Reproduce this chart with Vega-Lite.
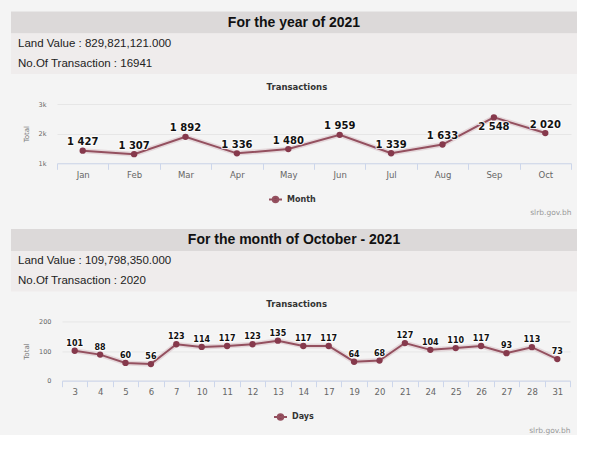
{
  "$schema": "https://vega.github.io/schema/vega-lite/v6.json",
  "background": "#f4f4f4",
  "padding": {"left": 11, "top": 11.5, "right": 0, "bottom": 0},
  "config": {
    "view": {"stroke": null},
    "locale": {"number": {"decimal": ".", "thousands": " ", "grouping": [3], "currency": ["", ""]}}
  },
  "datasets": {
    "months": [
      {"month": "Jan", "total": 1427},
      {"month": "Feb", "total": 1307},
      {"month": "Mar", "total": 1892},
      {"month": "Apr", "total": 1336},
      {"month": "May", "total": 1480},
      {"month": "Jun", "total": 1959},
      {"month": "Jul", "total": 1339},
      {"month": "Aug", "total": 1633},
      {"month": "Sep", "total": 2548},
      {"month": "Oct", "total": 2020}
    ],
    "days": [
      {"day": 3, "total": 101}, {"day": 4, "total": 88}, {"day": 5, "total": 60}, {"day": 6, "total": 56},
      {"day": 7, "total": 123}, {"day": 10, "total": 114}, {"day": 11, "total": 117}, {"day": 12, "total": 123},
      {"day": 13, "total": 135}, {"day": 14, "total": 117}, {"day": 17, "total": 117}, {"day": 19, "total": 64},
      {"day": 20, "total": 68}, {"day": 21, "total": 127}, {"day": 24, "total": 104}, {"day": 25, "total": 110},
      {"day": 26, "total": 117}, {"day": 27, "total": 93}, {"day": 28, "total": 113}, {"day": 31, "total": 73}
    ]
  },
  "spacing": 12.4,
  "resolve": {"scale": {"color": "independent"}, "legend": {"color": "independent"}},
  "vconcat": [
    {
      "spacing": 7.5,
      "resolve": {"scale": {"color": "independent"}, "legend": {"color": "independent"}},
      "vconcat": [
        {
          "spacing": 0,
          "vconcat": [
            {
              "width": 566, "height": 22,
              "view": {"fill": "#dcd9d9", "stroke": null},
              "data": {"values": [{"text": "For the year of 2021"}]},
              "mark": {"type": "text", "font": "Liberation Sans", "fontSize": 14, "fontWeight": "bold", "color": "#111"},
              "encoding": {"text": {"field": "text"}}
            },
            {
              "width": 566, "height": 40.5,
              "view": {"fill": "#efecec", "stroke": null},
              "data": {"values": [{"line": 1, "text": "Land Value : 829,821,121.000"}, {"line": 2, "text": "No.Of Transaction : 16941"}]},
              "mark": {"type": "text", "align": "left", "dx": 7, "font": "Liberation Sans", "fontSize": 11.5, "color": "#222"},
              "encoding": {
                "x": {"datum": 0, "type": "quantitative", "scale": {"domain": [0, 1]}, "axis": null},
                "y": {"field": "line", "type": "ordinal", "axis": null},
                "text": {"field": "text"}
              }
            }
          ]
        },
        {
          "spacing": 10,
          "resolve": {"scale": {"color": "independent"}, "legend": {"color": "independent"}},
          "hconcat": [
            {"width": 1, "height": 1, "data": {"values": []}, "mark": "point", "encoding": {}},
            {
              "width": 514, "height": 59.3,
              "data": {"name": "months"},
              "title": {"text": "Transactions", "font": "DejaVu Sans", "fontSize": 8.5, "fontWeight": "bold", "color": "#333", "anchor": "middle", "frame": "bounds", "offset": 1, "baseline": "bottom"},
              "encoding": {
                "x": {"field": "month", "type": "nominal", "sort": null,
                  "scale": {"type": "band", "paddingInner": 0, "paddingOuter": 0},
                  "axis": {"title": "slrb.gov.bh", "titleAnchor": "end", "titleFont": "DejaVu Sans", "titleFontSize": 7.5, "titleFontWeight": "normal", "titleColor": "#999", "titlePadding": 30,
                    "labelAngle": 0, "labelFont": "DejaVu Sans", "labelFontSize": 8.5, "labelColor": "#666", "labelPadding": 1,
                    "tickSize": 6, "tickColor": "#ccd6eb", "domainColor": "#ccd6eb", "tickBand": "extent", "grid": false}},
                "y": {"field": "total", "type": "quantitative",
                  "scale": {"domain": [1000, 3000], "nice": false, "zero": false},
                  "axis": {"title": "Total", "titleFont": "DejaVu Sans", "titleFontSize": 7, "titleFontWeight": "normal", "titleColor": "#777", "titlePadding": 8.8,
                    "values": [1000, 2000, 3000], "labelExpr": "datum.value / 1000 + 'k'", "labelFont": "DejaVu Sans", "labelFontSize": 6.5, "labelColor": "#666", "labelPadding": 11,
                    "ticks": false, "domain": false, "gridColor": "#e6e6e6"}}
              },
              "layer": [
                {"mark": {"type": "line", "color": "#c9a3ac", "strokeWidth": 5, "opacity": 0.35}},
                {"mark": {"type": "line", "strokeWidth": 2},
                  "encoding": {"color": {"datum": "Month", "scale": {"range": ["#94505f"]},
                    "legend": {"title": null, "orient": "none", "legendX": 211, "legendY": 88, "padding": 0,
                      "symbolType": "M-1,0L1,0M-0.42,0A0.42,0.42,0,1,1,0.42,0A0.42,0.42,0,1,1,-0.42,0Z", "symbolSize": 169, "labelOffset": 4,
                      "labelFont": "DejaVu Sans", "labelFontSize": 8, "labelFontWeight": "bold", "labelColor": "#333",
                      "encode": {"symbols": {"update": {"fill": {"value": "#86394c"}, "stroke": {"value": "#94505f"}, "strokeWidth": {"value": 2}}}}}}}},
                {"mark": {"type": "point", "filled": true, "size": 40, "color": "#86394c", "opacity": 1}},
                {"transform": [{"filter": "datum.month != 'Sep'"}],
                  "mark": {"type": "text", "font": "DejaVu Sans", "fontSize": 10, "fontWeight": "bold", "dy": -8.5, "stroke": "white", "strokeWidth": 2, "strokeJoin": "round", "strokeOpacity": 0.8, "fill": "white"},
                  "encoding": {"text": {"field": "total", "format": ",d"}}},
                {"transform": [{"filter": "datum.month != 'Sep'"}],
                  "mark": {"type": "text", "font": "DejaVu Sans", "fontSize": 10, "fontWeight": "bold", "dy": -8.5, "color": "#111"},
                  "encoding": {"text": {"field": "total", "format": ",d"}}},
                {"transform": [{"filter": "datum.month == 'Sep'"}],
                  "mark": {"type": "text", "font": "DejaVu Sans", "fontSize": 10, "fontWeight": "bold", "dy": 10, "stroke": "white", "strokeWidth": 2, "strokeJoin": "round", "strokeOpacity": 0.8, "fill": "white"},
                  "encoding": {"text": {"field": "total", "format": ",d"}}},
                {"transform": [{"filter": "datum.month == 'Sep'"}],
                  "mark": {"type": "text", "font": "DejaVu Sans", "fontSize": 10, "fontWeight": "bold", "dy": 10, "color": "#111"},
                  "encoding": {"text": {"field": "total", "format": ",d"}}}
              ]
            }
          ]
        }
      ]
    },
    {
      "spacing": 7.5,
      "resolve": {"scale": {"color": "independent"}, "legend": {"color": "independent"}},
      "vconcat": [
        {
          "spacing": 0,
          "vconcat": [
            {
              "width": 566, "height": 22,
              "view": {"fill": "#dcd9d9", "stroke": null},
              "data": {"values": [{"text": "For the month of October - 2021"}]},
              "mark": {"type": "text", "font": "Liberation Sans", "fontSize": 14, "fontWeight": "bold", "color": "#111"},
              "encoding": {"text": {"field": "text"}}
            },
            {
              "width": 566, "height": 40.5,
              "view": {"fill": "#efecec", "stroke": null},
              "data": {"values": [{"line": 1, "text": "Land Value : 109,798,350.000"}, {"line": 2, "text": "No.Of Transaction : 2020"}]},
              "mark": {"type": "text", "align": "left", "dx": 7, "font": "Liberation Sans", "fontSize": 11.5, "color": "#222"},
              "encoding": {
                "x": {"datum": 0, "type": "quantitative", "scale": {"domain": [0, 1]}, "axis": null},
                "y": {"field": "line", "type": "ordinal", "axis": null},
                "text": {"field": "text"}
              }
            }
          ]
        },
        {
          "spacing": 10,
          "resolve": {"scale": {"color": "independent"}, "legend": {"color": "independent"}},
          "hconcat": [
            {"width": 1, "height": 1, "data": {"values": []}, "mark": "point", "encoding": {}},
            {
              "width": 508, "height": 59.3,
              "data": {"name": "days"},
              "title": {"text": "Transactions", "font": "DejaVu Sans", "fontSize": 8.5, "fontWeight": "bold", "color": "#333", "anchor": "middle", "frame": "bounds", "offset": 1, "baseline": "bottom"},
              "encoding": {
                "x": {"field": "day", "type": "ordinal",
                  "scale": {"type": "band", "paddingInner": 0, "paddingOuter": 0},
                  "axis": {"title": "slrb.gov.bh", "titleAnchor": "end", "titleFont": "DejaVu Sans", "titleFontSize": 7.5, "titleFontWeight": "normal", "titleColor": "#999", "titlePadding": 30,
                    "labelAngle": 0, "labelFont": "DejaVu Sans", "labelFontSize": 8.5, "labelColor": "#666", "labelPadding": 1,
                    "tickSize": 6, "tickColor": "#ccd6eb", "domainColor": "#ccd6eb", "tickBand": "extent", "grid": false}},
                "y": {"field": "total", "type": "quantitative",
                  "scale": {"domain": [0, 200], "nice": false},
                  "axis": {"title": "Total", "titleFont": "DejaVu Sans", "titleFontSize": 7, "titleFontWeight": "normal", "titleColor": "#777", "titlePadding": 8.8,
                    "values": [0, 100, 200], "labelFont": "DejaVu Sans", "labelFontSize": 6.5, "labelColor": "#666", "labelPadding": 11,
                    "ticks": false, "domain": false, "gridColor": "#e6e6e6"}}
              },
              "layer": [
                {"mark": {"type": "line", "color": "#c9a3ac", "strokeWidth": 5, "opacity": 0.35}},
                {"mark": {"type": "line", "strokeWidth": 2},
                  "encoding": {"color": {"datum": "Days", "scale": {"range": ["#94505f"]},
                    "legend": {"title": null, "orient": "none", "legendX": 211, "legendY": 88, "padding": 0,
                      "symbolType": "M-1,0L1,0M-0.42,0A0.42,0.42,0,1,1,0.42,0A0.42,0.42,0,1,1,-0.42,0Z", "symbolSize": 169, "labelOffset": 4,
                      "labelFont": "DejaVu Sans", "labelFontSize": 8, "labelFontWeight": "bold", "labelColor": "#333",
                      "encode": {"symbols": {"update": {"fill": {"value": "#86394c"}, "stroke": {"value": "#94505f"}, "strokeWidth": {"value": 2}}}}}}}},
                {"mark": {"type": "point", "filled": true, "size": 40, "color": "#86394c", "opacity": 1}},
                {"mark": {"type": "text", "font": "DejaVu Sans", "fontSize": 8, "fontWeight": "bold", "dy": -7, "stroke": "white", "strokeWidth": 2, "strokeJoin": "round", "strokeOpacity": 0.8, "fill": "white"},
                  "encoding": {"text": {"field": "total", "format": "d"}}},
                {"mark": {"type": "text", "font": "DejaVu Sans", "fontSize": 8, "fontWeight": "bold", "dy": -7, "color": "#111"},
                  "encoding": {"text": {"field": "total", "format": "d"}}}
              ]
            }
          ]
        }
      ]
    }
  ]
}
